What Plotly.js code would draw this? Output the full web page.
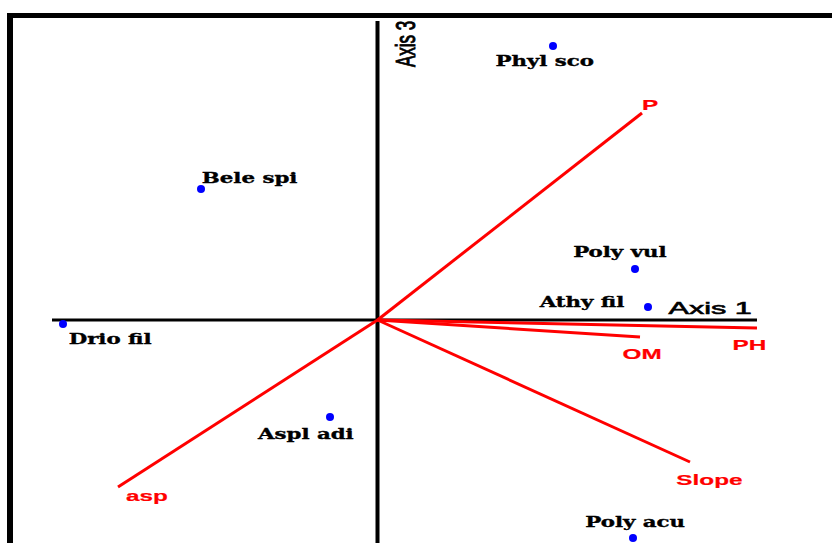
<!DOCTYPE html>
<html>
<head>
<meta charset="utf-8">
<script src="https://cdn.plot.ly/plotly-3.0.1.min.js"></script>
<style>
html,body{margin:0;padding:0;background:#ffffff;overflow:hidden}
#chart{width:832px;height:543px}
</style>
</head>
<body>
<div id="chart"></div>
<script>
// ---- data (ordination scores) ----
const species = ["Phyl sco", "Bele spi", "Poly vul", "Athy fil", "Drio fil", "Aspl adi", "Poly acu"];
const speciesAxis1 = [1.755, -1.765, 2.575, 2.705, -3.145, -0.475, 2.555];
const speciesAxis3 = [2.74, 1.31, 0.51, 0.13, -0.04, -0.97, -2.18];

const variables = ["P", "PH", "OM", "Slope", "asp"];
const variableAxis1 = [2.645, 3.795, 2.625, 3.125, -2.595];
const variableAxis3 = [2.07, -0.08, -0.17, -1.42, -1.67];

const axisNames = ["Axis 1", "Axis 3"];

// ---- layout settings ----
const xRange = [-3.775, 4.545];
const yRange = [-2.23, 3.20];
const axis1Extent = [-3.255, 3.795];
const axis3Extent = [-2.40, 2.99];

// label offsets in pixels: [dx, dy-down]
const speciesLabelShift = [[-9, 15], [49, -11], [-15, -17], [-67, -5], [47, 15], [-25, 17], [2, -16]];
const variableLabelShift = [[8, -9], [-8, 16], [2, 16], [19, 17], [29, 8]];
const axisLabelShift = [[-47, -12], [28.5, 23]];

const serifFont = {family: "DejaVu Serif", size: 15, color: "#000000", weight: "bold"};
const redFont = {family: "Liberation Sans, Arial, sans-serif", size: 15, color: "#ff0000", weight: "bold"};
const axisFont = {family: "Liberation Sans, Arial, sans-serif", size: 17, color: "#000000"};

// ---- traces ----
const vx = [], vy = [];
variables.forEach((v, i) => {
  vx.push(0, variableAxis1[i], null);
  vy.push(0, variableAxis3[i], null);
});

const vectorTrace = {
  type: "scatter", mode: "lines", x: vx, y: vy,
  line: {color: "#ff0000", width: 3}, hoverinfo: "skip", showlegend: false
};
const speciesTrace = {
  type: "scatter", mode: "markers", x: speciesAxis1, y: speciesAxis3,
  marker: {color: "#0000ff", size: 8}, text: species, showlegend: false
};

// ---- annotations ----
const annotations = [];
const stretch = [];
species.forEach((s, i) => {
  annotations.push({
    x: speciesAxis1[i], y: speciesAxis3[i], xref: "x", yref: "y", text: s,
    showarrow: false, xanchor: "center", yanchor: "middle",
    xshift: speciesLabelShift[i][0], yshift: -speciesLabelShift[i][1], font: serifFont
  });
  stretch.push(["x", 1.42, 0.35]);
});
variables.forEach((v, i) => {
  annotations.push({
    x: variableAxis1[i], y: variableAxis3[i], xref: "x", yref: "y", text: v,
    showarrow: false, xanchor: "center", yanchor: "middle",
    xshift: variableLabelShift[i][0], yshift: -variableLabelShift[i][1], font: redFont
  });
  stretch.push(["x", 1.62, 0.2]);
});
annotations.push({
  x: axis1Extent[1], y: 0, xref: "x", yref: "y", text: axisNames[0],
  showarrow: false, xanchor: "center", yanchor: "middle",
  xshift: axisLabelShift[0][0], yshift: -axisLabelShift[0][1], font: axisFont
});
stretch.push(["x", 1.8, 0.6]);
annotations.push({
  x: 0, y: axis3Extent[1], xref: "x", yref: "y", text: axisNames[1], textangle: -90,
  showarrow: false, xanchor: "center", yanchor: "middle",
  xshift: axisLabelShift[1][0], yshift: -axisLabelShift[1][1], font: axisFont
});
stretch.push(["y", 1.6, 0.6]);

// ---- shapes: frame and the two axes ----
const shapes = [
  {type: "line", xref: "paper", yref: "paper", x0: 7 / 832, x1: 1, y0: 1 - 15.5 / 543, y1: 1 - 15.5 / 543,
   line: {color: "#000000", width: 5}},
  {type: "line", xref: "paper", yref: "paper", x0: 10 / 832, x1: 10 / 832, y0: 0, y1: 1 - 13 / 543,
   line: {color: "#000000", width: 6}},
  {type: "line", xref: "x", yref: "y", x0: axis1Extent[0], x1: axis1Extent[1], y0: 0, y1: 0,
   line: {color: "#000000", width: 3}, layer: "below"},
  {type: "line", xref: "x", yref: "y", x0: 0, x1: 0, y0: axis3Extent[0], y1: axis3Extent[1],
   line: {color: "#000000", width: 4}, layer: "below"}
];

const layout = {
  width: 832, height: 543,
  margin: {l: 0, r: 0, t: 0, b: 0, pad: 0},
  paper_bgcolor: "#ffffff", plot_bgcolor: "#ffffff",
  showlegend: false,
  xaxis: {range: xRange, visible: false, fixedrange: true},
  yaxis: {range: yRange, visible: false, fixedrange: true},
  annotations: annotations,
  shapes: shapes
};

Plotly.newPlot("chart", [vectorTrace, speciesTrace], layout, {displayModeBar: false, staticPlot: true})
  .then(function (gd) {
    gd.querySelectorAll("g.annotation").forEach(function (g) {
      const idx = parseInt(g.getAttribute("data-index"), 10);
      const t = g.querySelector("text.annotation-text");
      if (!t || isNaN(idx) || !stretch[idx]) return;
      const bb = t.getBBox();
      const s = stretch[idx][1];
      if (stretch[idx][0] === "x") {
        const cx = bb.x + bb.width / 2;
        t.setAttribute("transform", "matrix(" + s + ",0,0,1," + (cx * (1 - s)) + ",0)");
      } else {
        const cy = bb.y + bb.height / 2;
        t.setAttribute("transform", "matrix(1,0,0," + s + ",0," + (cy * (1 - s)) + ")");
      }
      const fill = t.style.fill || getComputedStyle(t).fill;
      t.style.stroke = fill;
      t.style.strokeWidth = stretch[idx][2] + "px";
    });
  });
</script>
</body>
</html>
